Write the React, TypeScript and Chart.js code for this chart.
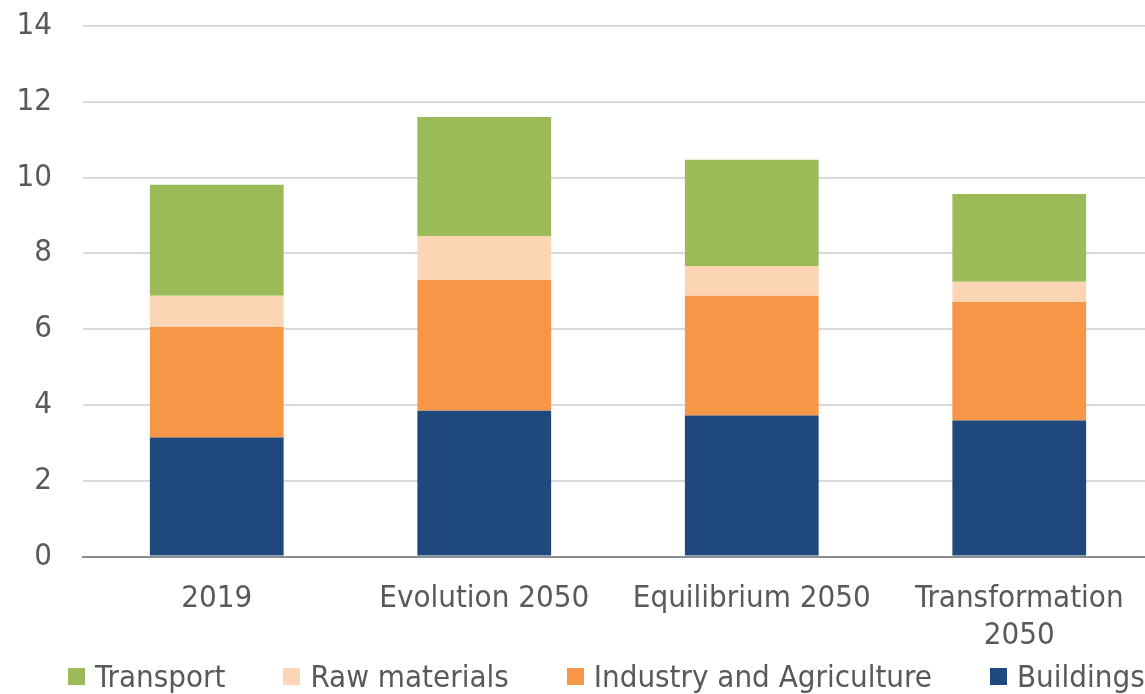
import React, { useEffect, useRef } from "react";
import { Chart, registerables } from "chart.js";

Chart.register(...registerables);

const categories: (string | string[])[] = ["2019", "Evolution 2050", "Equilibrium 2050", ["Transformation", "2050"]];
const buildings = [3.14, 3.85, 3.72, 3.59];
const industryAgriculture = [2.92, 3.45, 3.16, 3.13];
const rawMaterials = [0.82, 1.16, 0.79, 0.53];
const transport = [2.93, 3.14, 2.8, 2.32];
const yTicks = [0, 2, 4, 6, 8, 10, 12, 14];

const seriesNames = ["Buildings", "Industry and Agriculture", "Raw materials", "Transport"];
const seriesColors = ["#1F497D", "#F79646", "#FCD5B5", "#9BBB59"];
const seriesData = [buildings, industryAgriculture, rawMaterials, transport];

const FONT = "'DejaVu Sans Condensed', 'DejaVu Sans', sans-serif";
const TEXT = "#595959";
const FS = 31;
const CANVAS_W = 1153;

export default function App() {
  const ref = useRef<HTMLCanvasElement | null>(null);

  useEffect(() => {
    document.body.style.margin = "0";
    if (!ref.current) return;
    const chart = new Chart(ref.current, {
      type: "bar",
      data: {
        labels: categories,
        datasets: seriesNames.map((name, i) => ({
          label: name,
          data: seriesData[i],
          backgroundColor: seriesColors[i],
        })),
      },
      options: {
        animation: false,
        responsive: false,
        maintainAspectRatio: false,
        layout: { padding: { top: 26, left: 18, right: 0, bottom: 15 } },
        datasets: { bar: { categoryPercentage: 1, barPercentage: 0.5, borderWidth: 0 } },
        scales: {
          x: {
            stacked: true,
            grid: { display: false, drawTicks: false },
            border: { display: true, color: "#8C8C8C", width: 2 },
            ticks: { color: TEXT, font: { family: FONT, size: FS }, padding: 24, maxRotation: 0, autoSkip: false },
          },
          y: {
            stacked: true,
            min: 0,
            max: 14,
            afterBuildTicks: (axis: any) => {
              axis.ticks = yTicks.map((v) => ({ value: v }));
            },
            afterFit: (axis: any) => {
              axis.width = 65;
              axis.paddingTop = 0;
              axis.paddingBottom = 0;
            },
            grid: { color: "#D9D9D9", lineWidth: 2, drawTicks: false },
            border: { display: false },
            ticks: { color: TEXT, font: { family: FONT, size: FS }, padding: 31 },
          },
        },
        plugins: {
          legend: { display: false },
          tooltip: { enabled: false },
        },
      },
    });
    return () => chart.destroy();
  }, []);

  const legendOrder = [3, 2, 1, 0];

  return (
    <div style={{ position: "fixed", left: 0, top: 0, width: 1145, height: 694, overflow: "hidden" }}>
      <canvas ref={ref} width={CANVAS_W} height={694} style={{ width: CANVAS_W, height: 694, display: "block" }} />
      <div
        style={{
          position: "absolute",
          left: 68,
          top: 658,
          height: 37,
          display: "flex",
          alignItems: "center",
          gap: 58,
          fontFamily: FONT,
          fontSize: FS,
          lineHeight: "37px",
          color: TEXT,
          whiteSpace: "nowrap",
        }}
      >
        {legendOrder.map((i) => (
          <div key={seriesNames[i]} style={{ display: "flex", alignItems: "center" }}>
            <span style={{ display: "inline-block", width: 17, height: 17, background: seriesColors[i], marginRight: 10 }} />
            <span>{seriesNames[i]}</span>
          </div>
        ))}
      </div>
    </div>
  );
}
